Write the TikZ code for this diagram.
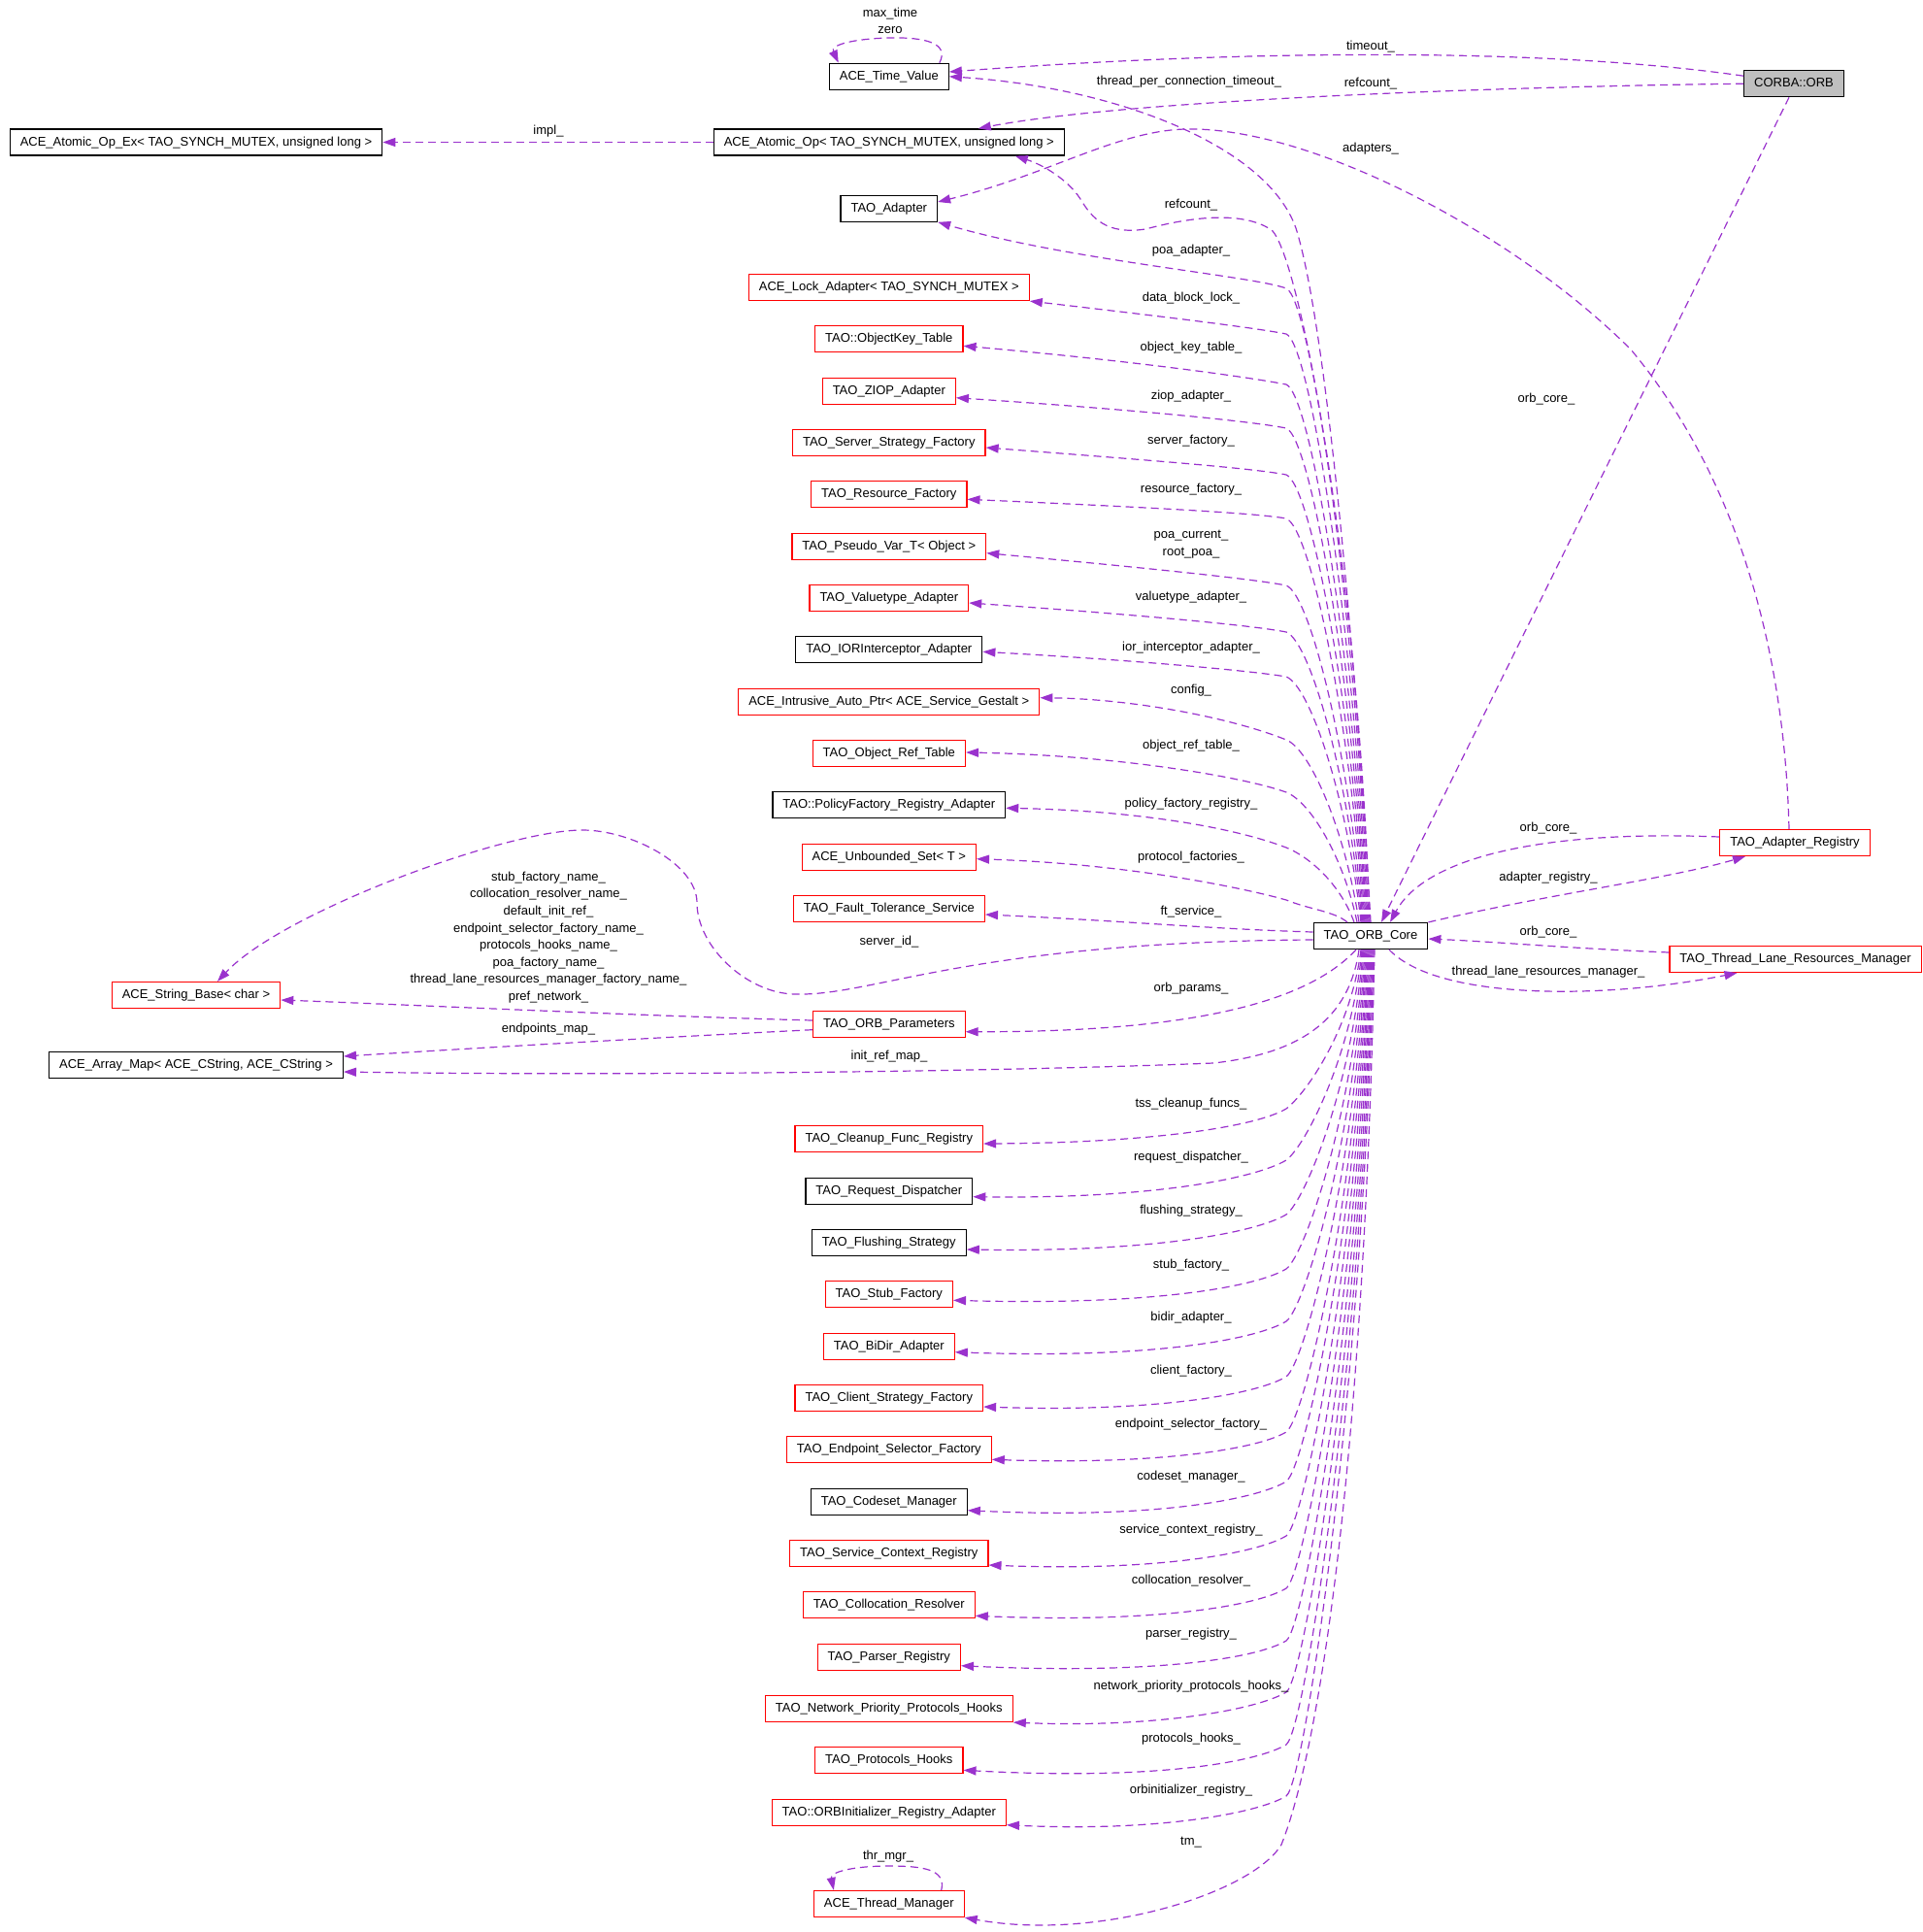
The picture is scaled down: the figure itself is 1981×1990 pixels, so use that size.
\documentclass[tikz,border=0pt]{standalone}
\usepackage{fontspec}
\setmainfont{Liberation Sans}
\usetikzlibrary{arrows.meta,calc}
\definecolor{edgec}{RGB}{154,50,205}
\definecolor{rootgray}{RGB}{191,191,191}
\newcommand\lblfont{\fontsize{13pt}{17.6pt}\selectfont}
\newcommand\UpEdge[5]{\draw[rel] ([xshift=#1pt]core.north) .. controls ({1398+(#1)},{475+0.5*(#2)}) and (1350,{#2+10}) .. (1325,#2) .. controls (#3) and (#4) .. (#5);}
\newcommand\LowEdge[4]{\draw[rel] ([xshift=#1pt]core.south) .. controls ({1402+(#1)},{489+0.5*(#2)}) and (1345,{#2-15}) .. (1325,#2) .. controls (1295,{#2+18}) and (#3) .. (#4);}
\begin{document}
\begin{tikzpicture}[x=1pt,y=-1pt,
  cls/.style={draw=black, line width=1.2pt, fill=white, minimum height=27pt, inner xsep=10.5pt, inner ysep=0pt, text height=9.5pt, text depth=2.5pt, font=\lblfont},
  redcls/.style={cls, draw=red},
  rootcls/.style={cls, fill=rootgray},
  rel/.style={draw=edgec, line width=1.2pt, dash pattern=on 8pt off 5pt, -{Triangle[length=13pt,width=9pt]}},
  elab/.style={font=\lblfont, text height=9.5pt, text depth=2.5pt, inner sep=0pt},
  mlab/.style={font=\lblfont, inner sep=0pt, align=center}]
\useasboundingbox (0,0) rectangle (1981,1990);
% nodes
\node[cls] (tv) at (915.8,78.8) {ACE\_Time\_Value};
\node[cls] (aoex) at (202,146.5) {ACE\_Atomic\_Op\_Ex< TAO\_SYNCH\_MUTEX, unsigned long >};
\node[cls] (ao) at (915.8,146.5) {ACE\_Atomic\_Op< TAO\_SYNCH\_MUTEX, unsigned long >};
\node[cls] (tadp) at (915.8,214.7) {TAO\_Adapter};
\node[redcls] (lock) at (915.8,296) {ACE\_Lock\_Adapter< TAO\_SYNCH\_MUTEX >};
\node[redcls] (okt) at (915.8,349.3) {TAO::ObjectKey\_Table};
\node[redcls] (ziop) at (915.8,402.7) {TAO\_ZIOP\_Adapter};
\node[redcls] (ssf) at (915.8,456) {TAO\_Server\_Strategy\_Factory};
\node[redcls] (rf) at (915.8,509.3) {TAO\_Resource\_Factory};
\node[redcls] (pvt) at (915.8,562.7) {TAO\_Pseudo\_Var\_T< Object >};
\node[redcls] (vta) at (915.8,616) {TAO\_Valuetype\_Adapter};
\node[cls] (ior) at (915.8,669.3) {TAO\_IORInterceptor\_Adapter};
\node[redcls] (iap) at (915.8,722.7) {ACE\_Intrusive\_Auto\_Ptr< ACE\_Service\_Gestalt >};
\node[redcls] (ort) at (915.8,776) {TAO\_Object\_Ref\_Table};
\node[cls] (pfr) at (915.8,829.3) {TAO::PolicyFactory\_Registry\_Adapter};
\node[redcls] (us) at (915.8,882.7) {ACE\_Unbounded\_Set< T >};
\node[redcls] (fts) at (915.8,936) {TAO\_Fault\_Tolerance\_Service};
\node[redcls] (sb) at (202,1025) {ACE\_String\_Base< char >};
\node[redcls] (orbp) at (915.8,1054.7) {TAO\_ORB\_Parameters};
\node[cls] (am) at (202,1097) {ACE\_Array\_Map< ACE\_CString, ACE\_CString >};
\node[redcls] (cfr) at (915.8,1173) {TAO\_Cleanup\_Func\_Registry};
\node[cls] (rd) at (915.8,1226.7) {TAO\_Request\_Dispatcher};
\node[cls] (fs) at (915.8,1280) {TAO\_Flushing\_Strategy};
\node[redcls] (stf) at (915.8,1333.3) {TAO\_Stub\_Factory};
\node[redcls] (bidir) at (915.8,1386.7) {TAO\_BiDir\_Adapter};
\node[redcls] (csf) at (915.8,1440) {TAO\_Client\_Strategy\_Factory};
\node[redcls] (esf) at (915.8,1493.3) {TAO\_Endpoint\_Selector\_Factory};
\node[cls] (csm) at (915.8,1546.7) {TAO\_Codeset\_Manager};
\node[redcls] (scr) at (915.8,1600) {TAO\_Service\_Context\_Registry};
\node[redcls] (colr) at (915.8,1653.3) {TAO\_Collocation\_Resolver};
\node[redcls] (pr) at (915.8,1706.7) {TAO\_Parser\_Registry};
\node[redcls] (nph) at (915.8,1760) {TAO\_Network\_Priority\_Protocols\_Hooks};
\node[redcls] (ph) at (915.8,1813.3) {TAO\_Protocols\_Hooks};
\node[redcls] (orbi) at (915.8,1866.7) {TAO::ORBInitializer\_Registry\_Adapter};
\node[redcls] (tm) at (915.8,1961) {ACE\_Thread\_Manager};
\node[rootcls] (orb) at (1848,86.2) {CORBA::ORB};
\node[cls] (core) at (1412,964) {TAO\_ORB\_Core};
\node[redcls] (ar) at (1849,868) {TAO\_Adapter\_Registry};
\node[redcls] (tlrm) at (1849.5,988) {TAO\_Thread\_Lane\_Resources\_Manager};
% edges top
\draw[rel] ([yshift=8pt]orb.west) .. controls (1600,50) and (1300,50) .. ([yshift=4.8pt]tv.east);
\draw[rel] (orb.west) .. controls (1500,90) and (1150,105) .. ([xshift=92pt]ao.north);
\draw[rel] ([xshift=-5pt]orb.south) -- ([xshift=11pt]core.north);
\draw[rel] (core.north) .. controls (1395,650) and (1365,330) .. (1335,235) .. controls (1305,150) and (1150,90) .. (tv.east);
\draw[rel] ([xshift=-10pt]tv.north east) .. controls (978,45) and (955,38) .. (915,39) .. controls (880,40) and (855,46) .. ([xshift=10pt]tv.north west);
\draw[rel] (ao.west) -- (aoex.east);
\draw[rel] ([xshift=-1pt]core.north) .. controls (1400,600) and (1340,265) .. (1310,237) .. controls (1285,220) and (1240,220) .. (1180,236) .. controls (1140,242) and (1125,225) .. (1113,205) .. controls (1100,185) and (1075,170) .. ([xshift=130pt]ao.south);
\draw[rel] ([xshift=-6pt]ar.north) .. controls (1838,650) and (1780,480) .. (1680,360) .. controls (1560,240) and (1350,130) .. (1221,133) .. controls (1150,135) and (1080,180) .. ([yshift=6.7pt]tadp.east);
% upper fan
\UpEdge{-2}{297}{1290,284}{1100,268}{tadp.south east}
\UpEdge{-3}{344}{1290,337}{1180,324}{lock.south east}
\UpEdge{-4}{396}{1290,389}{1170,372}{[yshift=-7pt]okt.east}
\UpEdge{-5}{441}{1290,434}{1170,422}{[yshift=-7pt]ziop.east}
\UpEdge{-6}{489}{1290,482}{1170,473}{[yshift=-5pt]ssf.east}
\UpEdge{-7}{534}{1290,528}{1170,522}{[yshift=-5pt]rf.east}
\UpEdge{-8}{603}{1290,596}{1170,584}{[yshift=-7pt]pvt.east}
\UpEdge{-9}{651}{1290,644}{1170,633}{[yshift=-5pt]vta.east}
\UpEdge{-10}{697}{1290,691}{1170,680}{[yshift=-2pt]ior.east}
\UpEdge{-12}{762}{1270,740}{1170,720}{[yshift=4pt]iap.east}
\UpEdge{-14}{816}{1280,800}{1150,778}{[yshift=1pt]ort.east}
\UpEdge{-17}{873}{1270,852}{1170,835}{[yshift=-3pt]pfr.east}
\UpEdge{-24}{927}{1290,917}{1170,890}{[yshift=-2pt]us.east}
\draw[rel] ([yshift=4pt]core.west) .. controls (1250,957) and (1150,948) .. ([yshift=-6pt]fts.east);
% middle
\draw[rel] ([yshift=-4pt]core.west) .. controls (1000,970) and (900,1026) .. (820,1024) .. controls (770,1024) and (718,975) .. (718,930) .. controls (718,890) and (650,855) .. (600,855) .. controls (520,855) and (290,940) .. ([xshift=22pt]sb.north);
\draw[rel] ([xshift=-15pt]core.south) .. controls (1340,1040) and (1200,1063) .. ([yshift=-8pt]orbp.east);
\draw[rel] ([xshift=-12pt]core.south) .. controls (1390,1050) and (1340,1085) .. (1250,1095) .. controls (1000,1105) and (600,1108) .. ([yshift=-7pt]am.east);
\draw[rel] ([yshift=3.7pt]orbp.west) .. controls (650,1046) and (450,1036) .. ([yshift=-5pt]sb.east);
\draw[rel] ([yshift=-6pt]orbp.west) .. controls (650,1070) and (450,1082) .. ([yshift=9pt]am.east);
% lower fan
\LowEdge{-10}{1142}{1190,1177}{[yshift=-5pt]cfr.east}
\LowEdge{-9}{1195}{1190,1235}{[yshift=-6pt]rd.east}
\LowEdge{-8}{1251}{1190,1290}{[yshift=-7pt]fs.east}
\LowEdge{-7}{1307}{1190,1345}{[yshift=-6pt]stf.east}
\LowEdge{-6}{1361}{1190,1400}{[yshift=-6pt]bidir.east}
\LowEdge{-5}{1418}{1190,1455}{[yshift=-9pt]csf.east}
\LowEdge{-4}{1475}{1190,1509}{[yshift=-10pt]esf.east}
\LowEdge{-3}{1526}{1190,1565}{[yshift=-9pt]csm.east}
\LowEdge{-2}{1582}{1190,1619}{[yshift=-12pt]scr.east}
\LowEdge{-1}{1636}{1190,1672}{[yshift=-11pt]colr.east}
\LowEdge{0}{1690}{1190,1725}{[yshift=-9pt]pr.east}
\LowEdge{1}{1743}{1190,1780}{nph.south east}
\LowEdge{2}{1797}{1190,1834}{[yshift=-10pt]ph.east}
\LowEdge{3}{1850}{1190,1887}{[yshift=-13pt]orbi.east}
\draw[rel] ([xshift=4pt]core.south) .. controls (1405,1500) and (1360,1800) .. (1320,1900) .. controls (1290,1950) and (1130,2000) .. (tm.south east);
\draw[rel] ([xshift=-24pt]tm.north east) .. controls (975,1925) and (950,1922) .. (915,1922) .. controls (880,1922) and (855,1928) .. ([xshift=21pt]tm.north west);
% right side
\draw[rel] ([yshift=6pt]ar.west) .. controls (1600,855) and (1470,880) .. ([xshift=20pt]core.north);
\draw[rel] (core.north east) .. controls (1600,920) and (1720,905) .. ([xshift=-51pt]ar.south);
\draw[rel] ([yshift=7pt]tlrm.west) .. controls (1620,977) and (1540,970) .. ([yshift=-3pt]core.east);
\draw[rel] ([xshift=19pt]core.south) .. controls (1480,1030) and (1650,1030) .. ([xshift=-60pt]tlrm.south);
% labels
\node[elab] (L1) at (1412,48) {timeout\_};
\node[elab] (L2) at (1412,86) {refcount\_};
\node[elab] (L3) at (1225,84) {thread\_per\_connection\_timeout\_};
\node[mlab] (L4) at (917,21.5) {max\_time\\zero};
\node[elab] (L5) at (565,135) {impl\_};
\node[elab] (L6) at (1412,153) {adapters\_};
\node[elab] (L7) at (1227,211) {refcount\_};
\node[elab] (L8) at (1227,258) {poa\_adapter\_};
\node[elab] (L9) at (1227,307) {data\_block\_lock\_};
\node[elab] (L10) at (1227,358) {object\_key\_table\_};
\node[elab] (L11) at (1227,408) {ziop\_adapter\_};
\node[elab] (L12) at (1227,454) {server\_factory\_};
\node[elab] (L13) at (1227,504) {resource\_factory\_};
\node[mlab] (L14) at (1227,560.5) {poa\_current\_\\root\_poa\_};
\node[elab] (L15) at (1227,615) {valuetype\_adapter\_};
\node[elab] (L16) at (1227,667) {ior\_interceptor\_adapter\_};
\node[elab] (L17) at (1227,711) {config\_};
\node[elab] (L18) at (1227,768) {object\_ref\_table\_};
\node[elab] (L19) at (1227,828) {policy\_factory\_registry\_};
\node[elab] (L20) at (1227,883) {protocol\_factories\_};
\node[elab] (L21) at (1227,939) {ft\_service\_};
\node[elab] (L22) at (916,970) {server\_id\_};
\node[elab] (L23) at (1227,1018) {orb\_params\_};
\node[mlab] (L24) at (565,965.5) {stub\_factory\_name\_\\collocation\_resolver\_name\_\\default\_init\_ref\_\\endpoint\_selector\_factory\_name\_\\protocols\_hooks\_name\_\\poa\_factory\_name\_\\thread\_lane\_resources\_manager\_factory\_name\_\\pref\_network\_};
\node[elab] (L25) at (565,1060) {endpoints\_map\_};
\node[elab] (L26) at (916,1088) {init\_ref\_map\_};
\node[elab] (L27) at (1227,1137) {tss\_cleanup\_funcs\_};
\node[elab] (L28) at (1227,1192) {request\_dispatcher\_};
\node[elab] (L29) at (1227,1247) {flushing\_strategy\_};
\node[elab] (L30) at (1227,1303) {stub\_factory\_};
\node[elab] (L31) at (1227,1357) {bidir\_adapter\_};
\node[elab] (L32) at (1227,1412) {client\_factory\_};
\node[elab] (L33) at (1227,1467) {endpoint\_selector\_factory\_};
\node[elab] (L34) at (1227,1521) {codeset\_manager\_};
\node[elab] (L35) at (1227,1576) {service\_context\_registry\_};
\node[elab] (L36) at (1227,1628) {collocation\_resolver\_};
\node[elab] (L37) at (1227,1683) {parser\_registry\_};
\node[elab] (L38) at (1227,1737) {network\_priority\_protocols\_hooks\_};
\node[elab] (L39) at (1227,1791) {protocols\_hooks\_};
\node[elab] (L40) at (1227,1844) {orbinitializer\_registry\_};
\node[elab] (L41) at (1227,1897) {tm\_};
\node[elab] (L42) at (915,1912) {thr\_mgr\_};
\node[elab] (L43) at (1593,411) {orb\_core\_};
\node[elab] (L44) at (1595,853) {orb\_core\_};
\node[elab] (L45) at (1595,904) {adapter\_registry\_};
\node[elab] (L46) at (1595,960) {orb\_core\_};
\node[elab] (L47) at (1595,1001) {thread\_lane\_resources\_manager\_};
\end{tikzpicture}
\end{document}
